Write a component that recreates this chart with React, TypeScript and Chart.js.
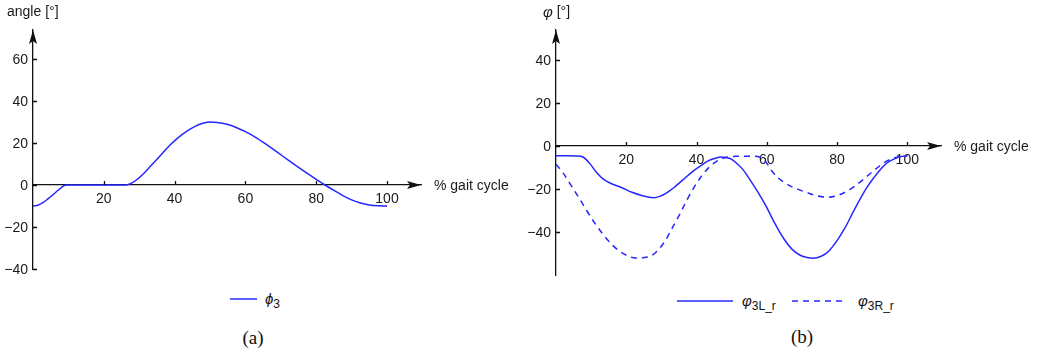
import React, { useEffect, useRef } from "react";
import { Chart, registerables } from "chart.js";

Chart.register(...registerables);

// ---------- data ----------
const xTicks = [20, 40, 60, 80, 100];
const leftYTicks = [60, 40, 20, 0, -20, -40];
const rightYTicks = [40, 20, 0, -20, -40];

const phi3X = [0, 1.5, 2.9, 4.3, 5.8, 7, 8.1, 9, 9.8, 15, 20, 26, 27.5, 29.3, 31.7, 34.1, 36.5, 38.8, 41.2, 43.5, 45.9, 48.2, 50.1, 52, 54.8, 57.4, 60, 63, 66, 69, 72, 75, 77.5, 80, 82.5, 85, 87.8, 90, 92.5, 95, 97.5, 100];
const phi3Y = [-10, -9.5, -8.3, -6.5, -4.4, -2.6, -1.1, -0.15, 0, 0, 0, 0, 0.6, 2.5, 6.2, 10.6, 15, 19.2, 22.8, 25.6, 28, 29.5, 30, 29.8, 28.9, 27.4, 25.4, 22.6, 19.2, 15.6, 12, 8.4, 5.5, 2.7, 0, -2.6, -5.3, -7.1, -8.6, -9.5, -9.9, -10];

const phiLX = [0, 3, 6, 7.5, 8.6, 9.7, 11.5, 13.4, 15.5, 18.9, 21.6, 24.4, 26.5, 27.8, 29.5, 31.4, 33.8, 36.3, 38.8, 41.2, 43.2, 45.1, 47, 48.5, 49.8, 51, 53, 54.9, 57.4, 59.8, 62.3, 65, 67.3, 69.5, 71.5, 73.2, 75.5, 77.7, 80, 82.3, 84.5, 86.8, 88.7, 90.5, 92.3, 94.1, 96.8, 98.5, 100];
const phiL = [-4.5, -4.5, -4.6, -5, -6.3, -8.3, -12.2, -15.3, -17.3, -19.5, -21.5, -23, -23.8, -24, -23.4, -21.9, -19, -15.5, -12, -9.2, -7, -5.8, -5.1, -5.3, -6, -7.4, -10.5, -14.9, -21.2, -28, -36, -43.5, -48.2, -50.8, -51.9, -52.2, -51.3, -48.8, -44, -38, -31, -24, -18.8, -14.7, -11, -8, -5.6, -4.8, -4.5];

const phiRX = [0, 2, 4.1, 6.5, 8.8, 11, 13.4, 15.7, 18, 20.3, 22.6, 24.5, 27.2, 29.4, 31.3, 33.3, 35.3, 37.3, 39.2, 41.2, 43.2, 45.1, 47, 49, 51, 54, 56.9, 58.3, 59.8, 61.4, 63.2, 65, 67.2, 69.5, 72, 74.5, 77.3, 79.5, 81.4, 83.7, 85.9, 88.2, 90.5, 92.3, 94.1, 96.8, 98.5, 100];
const phiR = [-8.5, -12.5, -17.8, -24, -30.2, -35.8, -41.1, -45.5, -48.8, -51, -52.1, -52, -51, -47.8, -43.5, -37.5, -31.5, -25, -19.5, -14.5, -10.5, -7.8, -6, -5.1, -4.8, -4.7, -4.8, -5.4, -7.5, -11.5, -14.8, -17, -19, -20.5, -22, -23.2, -23.8, -23.3, -22.2, -20.2, -17.6, -14.5, -11.4, -9, -7, -5.3, -4.8, -4.5];

// ---------- styling ----------
const BLUE = "rgb(38,38,255)";
const AXIS = "#111";
const FONT = "'Liberation Sans', Arial, sans-serif";

const toPts = (xs: number[], ys: number[]) => xs.map((x, i) => ({ x, y: ys[i] }));
const fmt = (v: number) => (v < 0 ? "\u2212" + Math.abs(v) : String(v));

const axisDeco = {
  id: "axisDeco",
  afterDraw(chart: any, _args: any, opts: any) {
    const { ctx, chartArea: ca } = chart;
    const xs = chart.scales.x;
    const ys = chart.scales.y;
    const x0 = xs.getPixelForValue(0);
    const y0 = ys.getPixelForValue(0);
    ctx.save();
    ctx.fillStyle = AXIS;
    ctx.strokeStyle = AXIS;
    ctx.lineWidth = 1.3;
    // arrow up
    ctx.beginPath();
    ctx.moveTo(x0, ca.top);
    ctx.lineTo(x0 - 4, ca.top + 14);
    ctx.lineTo(x0, ca.top + 11);
    ctx.lineTo(x0 + 4, ca.top + 14);
    ctx.closePath();
    ctx.fill();
    // arrow right
    ctx.beginPath();
    ctx.moveTo(ca.right, y0);
    ctx.lineTo(ca.right - 14, y0 - 4);
    ctx.lineTo(ca.right - 11, y0);
    ctx.lineTo(ca.right - 14, y0 + 4);
    ctx.closePath();
    ctx.fill();
    // inward tick marks
    ctx.beginPath();
    for (const v of xTicks) {
      const px = Math.round(xs.getPixelForValue(v)) + 0.5;
      ctx.moveTo(px, y0);
      ctx.lineTo(px, y0 - 4);
    }
    for (const t of ys.ticks) {
      const py = Math.round(ys.getPixelForValue(t.value)) + 0.5;
      ctx.moveTo(x0, py);
      ctx.lineTo(x0 + 4, py);
    }
    ctx.stroke();
    // y tick labels (from the scale's ticks)
    ctx.font = "14px " + FONT;
    ctx.fillStyle = "#1a1a1a";
    ctx.textAlign = "right";
    ctx.textBaseline = "middle";
    for (const t of ys.ticks) {
      ctx.fillText(fmt(t.value), x0 - 5, ys.getPixelForValue(t.value) + 1);
    }
    // titles
    ctx.textAlign = "left";
    ctx.fillText("% gait cycle", ca.right + 13, y0 + 1);
    if (opts.italicPhi) {
      ctx.font = "italic 15px " + FONT;
      ctx.fillText("\u03C6", opts.titleX, 13);
      const w = ctx.measureText("\u03C6").width;
      ctx.font = "14px " + FONT;
      ctx.fillText(" [\u00B0]", opts.titleX + w, 12);
    } else {
      ctx.fillText(opts.title, opts.titleX, 12);
    }
    ctx.restore();
  },
};

type Props = {
  left: number;
  width: number;
  height: number;
  padding: { left: number; right: number; top: number; bottom: number };
  yMin: number;
  yMax: number;
  yTicks: number[];
  datasets: any[];
  deco: any;
};

function GaitChart(p: Props) {
  const ref = useRef<HTMLCanvasElement>(null);
  useEffect(() => {
    Chart.defaults.font.family = FONT;
    const chart = new Chart(ref.current!, {
      type: "line",
      data: { datasets: p.datasets },
      options: {
        animation: false,
        responsive: false,
        devicePixelRatio: 1,
        layout: { padding: p.padding },
        elements: { point: { radius: 0 }, line: { tension: 0 } },
        plugins: {
          legend: { display: false },
          tooltip: { enabled: false },
          axisDeco: { ...p.deco },
        } as any,
        scales: {
          x: {
            type: "linear",
            min: 0,
            max: 109.6,
            position: { y: 0 } as any,
            grid: { display: false, drawTicks: false },
            border: { display: true, color: AXIS, width: 1.3 },
            afterBuildTicks: (s: any) => {
              s.ticks = xTicks.map((v) => ({ value: v }));
            },
            ticks: {
              autoSkip: false,
              maxRotation: 0,
              padding: 6,
              color: "#1a1a1a",
              font: { size: 14, family: FONT },
              callback: (v: any) => fmt(Number(v)),
            },
          },
          y: {
            type: "linear",
            min: p.yMin,
            max: p.yMax,
            position: { x: 0 } as any,
            grid: { display: false, drawTicks: false },
            border: { display: true, color: AXIS, width: 1.3 },
            afterBuildTicks: (s: any) => {
              s.ticks = p.yTicks.map((v) => ({ value: v }));
            },
            ticks: {
              display: false,
              autoSkip: false,
              callback: (v: any) => fmt(Number(v)),
            },
          },
        },
      },
      plugins: [axisDeco as any],
    });
    return () => chart.destroy();
  }, []);
  return (
    <canvas
      ref={ref}
      width={p.width}
      height={p.height}
      style={{ position: "absolute", left: p.left, top: 0, width: p.width, height: p.height }}
    />
  );
}

const lineDs = (label: string, xs: number[], ys: number[], dash: number[] = []) => ({
  label,
  data: toPts(xs, ys),
  borderColor: BLUE,
  borderWidth: 1.5,
  borderDash: dash,
  fill: false,
  cubicInterpolationMode: "monotone" as const,
  pointRadius: 0,
});

const legendText: React.CSSProperties = {
  position: "absolute",
  fontFamily: "'Liberation Sans Narrow', 'Liberation Sans', Arial, sans-serif",
  fontSize: 15,
  lineHeight: "16px",
  color: "#111",
  whiteSpace: "nowrap",
};

function Sample({ x, y, w, dashed }: { x: number; y: number; w: number; dashed?: boolean }) {
  return (
    <svg style={{ position: "absolute", left: x, top: y - 2 }} width={w} height={4}>
      <line x1={0} y1={2} x2={w} y2={2} stroke={BLUE} strokeWidth={1.5} strokeDasharray={dashed ? "6 5" : undefined} />
    </svg>
  );
}

export default function App() {
  return (
    <div style={{ position: "absolute", left: 0, top: 0, width: 1051, height: 355, background: "#fff", overflow: "hidden" }}>
      <GaitChart
        left={0}
        width={525}
        height={285}
        padding={{ left: 33, right: 104, top: 30, bottom: 16 }}
        yMin={-40}
        yMax={73.8}
        yTicks={leftYTicks}
        datasets={[lineDs("\u03D53", phi3X, phi3Y)]}
        deco={{ title: "angle [\u00B0]", titleX: 7 }}
      />
      <GaitChart
        left={525}
        width={526}
        height={285}
        padding={{ left: 31, right: 110, top: 30, bottom: 10 }}
        yMin={-60}
        yMax={54}
        yTicks={rightYTicks}
        datasets={[lineDs("\u03C63L_r", phiLX, phiL), lineDs("\u03C63R_r", phiRX, phiR, [6, 5])]}
        deco={{ italicPhi: true, titleX: 18 }}
      />
      {/* legend (a) */}
      <Sample x={230} y={299} w={27} />
      <div style={{ ...legendText, left: 265, top: 291 }}>
        <i>{"\u03D5"}</i>
        <sub style={{ fontSize: 12 }}>3</sub>
      </div>
      {/* legend (b) */}
      <Sample x={677} y={301} w={56} />
      <div style={{ ...legendText, left: 742, top: 293 }}>
        <i>{"\u03C6"}</i>
        <sub style={{ fontSize: 12 }}>3L_r</sub>
      </div>
      <Sample x={792} y={301} w={54} dashed />
      <div style={{ ...legendText, left: 858, top: 293 }}>
        <i>{"\u03C6"}</i>
        <sub style={{ fontSize: 12 }}>3R_r</sub>
      </div>
      {/* captions */}
      <div style={{ position: "absolute", left: 233, width: 40, top: 327, textAlign: "center", fontFamily: "'Liberation Serif', 'Times New Roman', serif", fontSize: 19, lineHeight: "22px", color: "#111" }}>(a)</div>
      <div style={{ position: "absolute", left: 782, width: 40, top: 326, textAlign: "center", fontFamily: "'Liberation Serif', 'Times New Roman', serif", fontSize: 19, lineHeight: "22px", color: "#111" }}>(b)</div>
    </div>
  );
}
